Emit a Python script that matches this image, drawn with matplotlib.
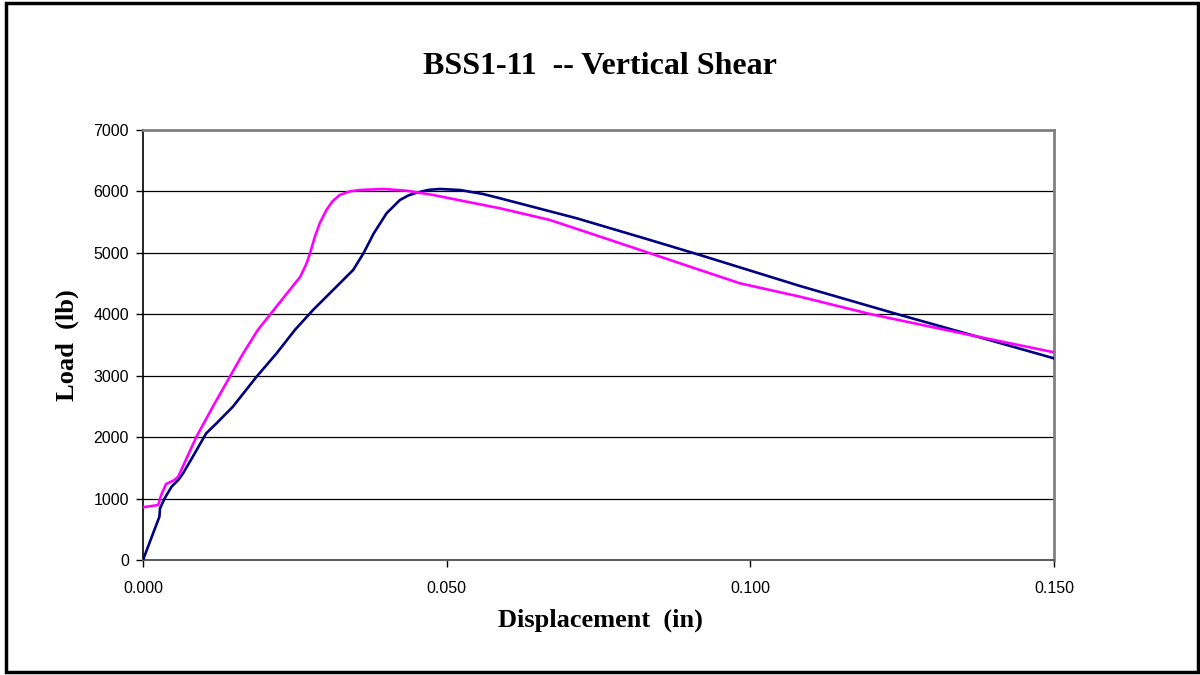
import matplotlib
matplotlib.use("Agg")
import matplotlib.pyplot as plt
from matplotlib.patches import Rectangle

# Blue (navy) series: displacement (in), load (lb)
blue_x = [0.0, 0.0027, 0.0028, 0.0036, 0.0047, 0.0058, 0.0066, 0.0082, 0.0104,
          0.0121, 0.0148, 0.0187, 0.0220, 0.0250, 0.0280, 0.0313, 0.0346, 0.0363,
          0.0380, 0.0401, 0.0423, 0.0437, 0.0451, 0.0470, 0.0489, 0.0522, 0.0560,
          0.0588, 0.0714, 0.0835, 0.0917, 0.1082, 0.1247, 0.1345, 0.1500]
blue_y = [0, 705, 840, 1010, 1193, 1302, 1411, 1682, 2062,
          2225, 2496, 2984, 3365, 3744, 4070, 4395, 4721, 4993,
          5318, 5644, 5860, 5935, 5980, 6025, 6040, 6023, 5958,
          5888, 5563, 5209, 4965, 4460, 3988, 3716, 3283]

# Magenta series
pink_x = [0.0, 0.0025, 0.0030, 0.0038, 0.0052, 0.0058, 0.0088, 0.0115, 0.0143,
          0.0165, 0.0189, 0.0259, 0.0269, 0.0275, 0.0283, 0.0291, 0.0302, 0.0312,
          0.0324, 0.0340, 0.0357, 0.0396, 0.0434, 0.0478, 0.0533, 0.0588, 0.0670,
          0.0753, 0.0835, 0.0917, 0.0983, 0.1082, 0.1197, 0.1356, 0.1500]
pink_y = [858, 895, 1058, 1237, 1302, 1357, 2007, 2496, 2984,
          3365, 3744, 4612, 4820, 4993, 5263, 5481, 5698, 5840,
          5942, 6000, 6023, 6040, 6012, 5942, 5833, 5725, 5535,
          5263, 4993, 4721, 4504, 4286, 4005, 3674, 3381]

x_ticks = [0.0, 0.05, 0.10, 0.15]
y_ticks = [0, 1000, 2000, 3000, 4000, 5000, 6000, 7000]

fig = plt.figure(figsize=(12, 6.75), dpi=100)
ax = fig.add_axes([143 / 1200, 1 - 560 / 675, (1054 - 143) / 1200, (560 - 130) / 675])

ax.plot(blue_x, blue_y, color='#000080', lw=1.9, zorder=3)
ax.plot(pink_x, pink_y, color='#FF00FF', lw=1.9, zorder=3)

ax.set_xlim(0, 0.15)
ax.set_ylim(0, 7000)
ax.set_xticks(x_ticks)
ax.set_xticklabels([f'{v:.3f}' for v in x_ticks])
ax.set_yticks(y_ticks)
ax.grid(axis='y', color='black', lw=0.9)
ax.set_axisbelow(True)

for s in ['top', 'right']:
    ax.spines[s].set_color('#808080')
    ax.spines[s].set_linewidth(2)
ax.spines['left'].set_color('black')
ax.spines['left'].set_linewidth(1.2)
ax.spines['bottom'].set_color('#606060')
ax.spines['bottom'].set_linewidth(1.5)

ax.tick_params(direction='out', length=5, width=1, labelsize=11.5, pad=5)
for lab in ax.get_xticklabels() + ax.get_yticklabels():
    lab.set_family('Liberation Sans')
ax.tick_params(axis='x', pad=10)

fig.text(0.5, 1 - 67 / 675, 'BSS1-11  -- Vertical Shear', ha='center', va='center',
         fontsize=23, fontweight='bold', family='Liberation Serif')
fig.text(0.5, 1 - 620 / 675, 'Displacement  (in)', ha='center', va='center',
         fontsize=19, fontweight='bold', family='Liberation Serif')
fig.text(67 / 1200, 1 - 345 / 675, 'Load  (lb)', ha='center', va='center', rotation=90,
         fontsize=19, fontweight='bold', family='Liberation Serif')

fig.patches.append(Rectangle((6 / 1200, 3 / 675), 1192 / 1200, 669 / 675,
                             transform=fig.transFigure, fill=False,
                             edgecolor='black', lw=2.5))

fig.savefig('out.png', dpi=100, facecolor='white')
plt.close(fig)
